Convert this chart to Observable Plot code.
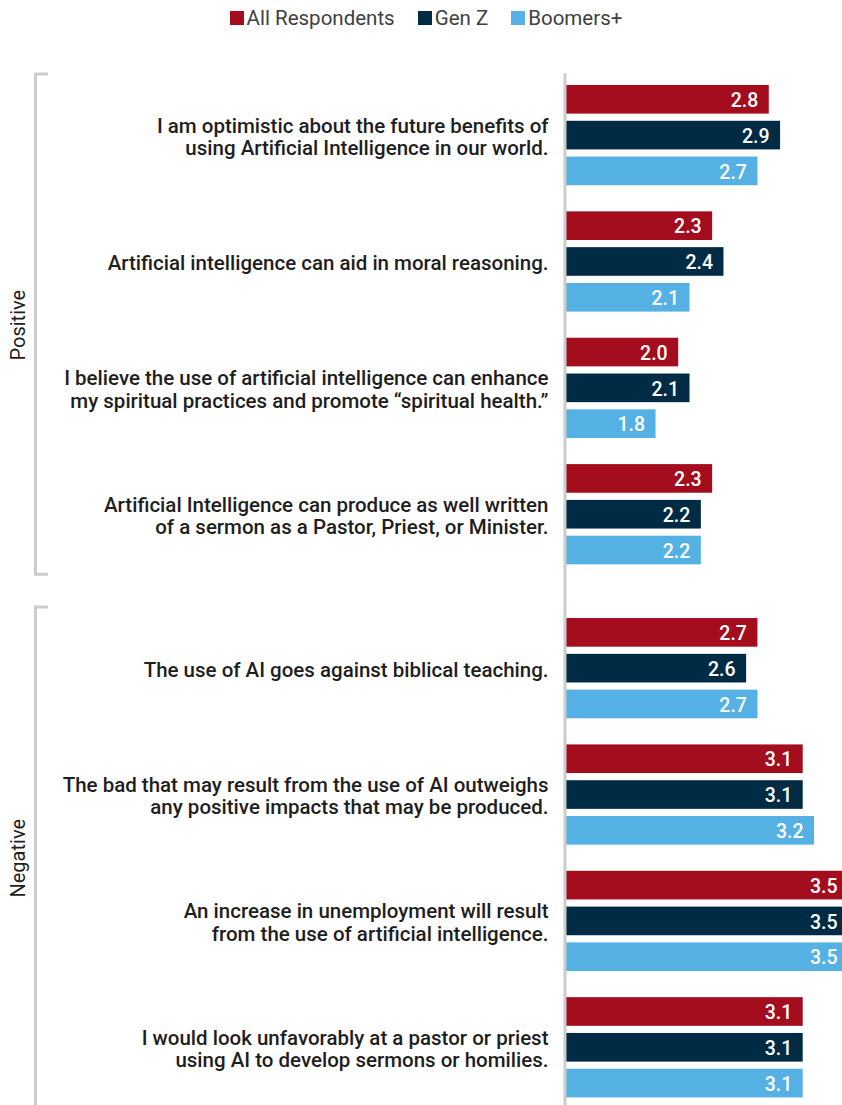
<!DOCTYPE html>
<html>
<head>
<meta charset="utf-8">
<script src="https://cdn.jsdelivr.net/npm/d3@7"></script>
<script src="https://cdn.jsdelivr.net/npm/@observablehq/plot@0.6"></script>
<style>
  html, body { margin: 0; padding: 0; background: #fff; overflow: hidden; }
  #legend { height: 36px; display: flex; justify-content: center; align-items: center; gap: 23px;
            font-family: Roboto, sans-serif; font-size: 20.5px; font-weight: 400; color: #404040; padding-left: 10px; box-sizing: border-box; }
  #legend .item { display: flex; align-items: center; gap: 3px; }
  #legend .sw { width: 14px; height: 14px; display: inline-block; }
  #chart svg { display: block; }
</style>
</head>
<body>
<div id="legend"></div>
<div id="chart"></div>
<script>
// ---- data ----
const statements = [
  "I am optimistic about the future benefits of\nusing Artificial Intelligence in our world.",
  "Artificial intelligence can aid in moral reasoning.",
  "I believe the use of artificial intelligence can enhance\nmy spiritual practices and promote “spiritual health.”",
  "Artificial Intelligence can produce as well written\nof a sermon as a Pastor, Priest, or Minister.",
  "The use of AI goes against biblical teaching.",
  "The bad that may result from the use of AI outweighs\nany positive impacts that may be produced.",
  "An increase in unemployment will result\nfrom the use of artificial intelligence.",
  "I would look unfavorably at a pastor or priest\nusing AI to develop sermons or homilies."
];
const sentiment = ["Positive", "Positive", "Positive", "Positive", "Negative", "Negative", "Negative", "Negative"];
const seriesNames = ["All Respondents", "Gen Z", "Boomers+"];
const allRespondents = [2.8, 2.3, 2.0, 2.3, 2.7, 3.1, 3.5, 3.1];
const genZ           = [2.9, 2.4, 2.1, 2.2, 2.6, 3.1, 3.5, 3.1];
const boomers        = [2.7, 2.1, 1.8, 2.2, 2.7, 3.2, 3.5, 3.1];
const colors = ["#a30d1d", "#002b45", "#55b0e3"];

// ---- layout (row units) ----
const GROUP_STEP = 3.53, SECTION_GAP = 0.77, HALF = 0.4;
const seriesValues = [allRespondents, genZ, boomers];
const groupPos = statements.map((s, g) => g * GROUP_STEP + (sentiment[g] === "Negative" ? SECTION_GAP : 0));
const rows = [];
statements.forEach((st, g) => {
  seriesValues.forEach((arr, s) => {
    rows.push({statement: st, series: seriesNames[s], value: arr[g], pos: groupPos[g] + s});
  });
});
const labels = statements.map((st, g) => ({statement: st, pos: groupPos[g] + 1}));
const sections = ["Positive", "Negative"].map(name => {
  const idx = sentiment.map((s, i) => s === name ? i : -1).filter(i => i >= 0);
  const first = groupPos[idx[0]], last = groupPos[idx[idx.length - 1]] + 2;
  return {name, first, last, mid: (first + last) / 2};
});

// ---- legend ----
const legend = d3.select("#legend");
seriesNames.forEach((n, i) => {
  const it = legend.append("div").attr("class", "item");
  it.append("span").attr("class", "sw").style("background", colors[i]);
  it.append("span").text(n);
});

// ---- bracket render mark ----
const brackets = (index, scales) => {
  const g = d3.create("svg:g");
  for (const s of sections) {
    const top = scales.y(s.first - HALF) - 11;
    const bot = scales.y(s.last + HALF) + 10;
    g.append("path")
      .attr("d", `M48,${top}H35.5V${bot}H48`)
      .attr("fill", "none").attr("stroke", "#cccccc").attr("stroke-width", 3);
  }
  return g.node();
};

const plot = Plot.plot({
  width: 842,
  height: 1069,
  margin: 0,
  x: {domain: [1, 3.5], range: [565, 848], axis: null},
  y: {domain: [0, 1], range: [63.3, 99.1], axis: null},
  color: {domain: seriesNames, range: colors},
  style: {fontFamily: "Roboto, sans-serif", background: "white"},
  marks: [
    Plot.rect(rows, {x1: d => 1, x2: "value", y1: d => d.pos - HALF, y2: d => d.pos + HALF, fill: "series"}),
    Plot.ruleX([1], {y1: d => -HALF - 0.33, y2: d => 40, stroke: "#cccccc", strokeWidth: 3, dx: -0.5}),
    Plot.text(rows, {x: "value", y: "pos", text: d => d.value.toFixed(1), textAnchor: "end", dx: -11, dy: 1,
                     fill: "white", fontSize: 19.5, fontWeight: 500}),
    Plot.text(labels, {x: d => 1, y: "pos", text: "statement", textAnchor: "end", dx: -17, dy: 1,
                       fontSize: 20.5, fontWeight: 500, lineHeight: 1.08, fill: "#1e1e1e"}),
    Plot.text(sections, {frameAnchor: "left", y: "mid", text: "name", rotate: -90, dx: 18,
                         textAnchor: "middle", fontSize: 20, fontWeight: 400, fill: "#1e1e1e"}),
    brackets
  ]
});
document.getElementById("chart").appendChild(plot);
</script>
</body>
</html>
